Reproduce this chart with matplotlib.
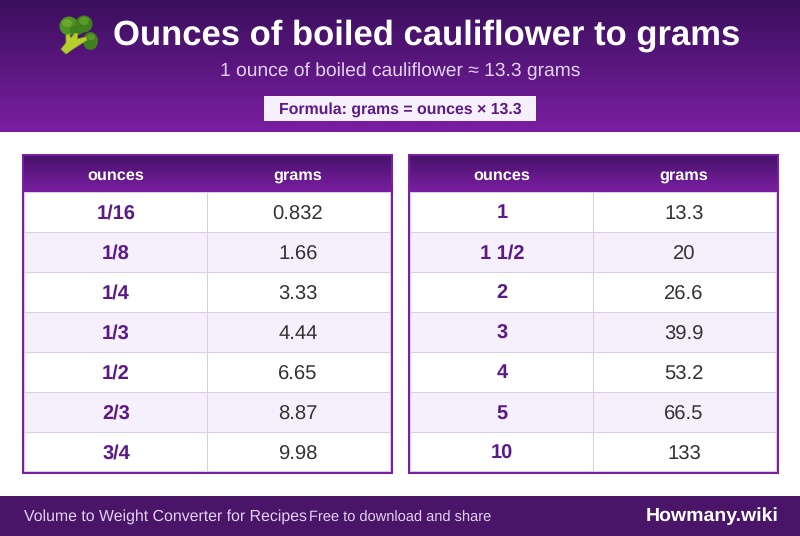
import numpy as np
import matplotlib
matplotlib.use("Agg")
import matplotlib.pyplot as plt
from matplotlib.colors import LinearSegmentedColormap
from matplotlib.patches import Rectangle, Ellipse, Polygon

plt.rcParams['font.family'] = ['Liberation Sans', 'DejaVu Sans']
plt.rcParams['text.hinting'] = 'no_hinting'
plt.rcParams['text.hinting_factor'] = 8

title = "Ounces of boiled cauliflower to grams"
subtitle = "1 ounce of boiled cauliflower \u2248 13.3 grams"
formula = "Formula: grams = ounces \u00d7 13.3"
footer_left = "Volume to Weight Converter for Recipes"
footer_mid = "Free to download and share"
footer_right = "Howmany.wiki"
col_names = ["ounces", "grams"]
ounces_left = ["1/16", "1/8", "1/4", "1/3", "1/2", "2/3", "3/4"]
grams_left = ["0.832", "1.66", "3.33", "4.44", "6.65", "8.87", "9.98"]
ounces_right = ["1", "1 1/2", "2", "3", "4", "5", "10"]
grams_right = ["13.3", "20", "26.6", "39.9", "53.2", "66.5", "133"]

DARK = "#3a0f5c"
MID = "#4a1568"
PURPLE = "#7b1fa2"
TEXT_PURPLE = "#5c1a87"
PALE = "#f5f0fb"
GRID = "#dccbee"

fig = plt.figure(figsize=(8, 5.36), dpi=100)
ax = fig.add_axes([0, 0, 1, 1])
ax.axis("off")

grad = LinearSegmentedColormap.from_list("head", [DARK, PURPLE])
ramp = np.linspace(0, 1, 256).reshape(-1, 1)
ramp_tbl = np.linspace(0.2, 1, 256).reshape(-1, 1)


def block(x, y, w, h, color, z=2):
    ax.add_patch(Rectangle((x, y), w, h, fc=color, ec="none", lw=0, zorder=z))


def label(x, y, s, color, size, bold=False, ha="center"):
    # .45 keeps baselines level, agg rounds y plus the string's descent
    ax.text(x, y + 0.45, s, color=color, fontsize=size, fontweight="bold" if bold else "normal",
            ha=ha, va="baseline", zorder=3)


# header band
ax.imshow(ramp, cmap=grad, vmin=0, vmax=1, extent=[0, 800, 132, 0], aspect="auto", zorder=1)

label(427, 44, title, "white", 24.95, True)
label(400, 76, subtitle, "#e1d2f0", 13.85)
block(264, 96, 272, 25, PALE)
label(400, 113, formula, TEXT_PURPLE, 11.4, True)

# broccoli icon, no emoji font here
for cx, cy, w, h, c in [(69, 26, 19, 19, "#4d9222"), (84, 24, 17, 17, "#3f7f1e"),
                        (77, 30, 14, 10, "#3f7f1e"), (90.5, 41, 15, 18, "#3f7f1e"),
                        (67, 23, 10, 8, "#6aa52c"), (84, 21, 10, 8, "#5c9a28"),
                        (91, 37, 8, 6, "#5c9a28")]:
    ax.add_patch(Ellipse((cx, cy), w, h, fc=c, ec="none", zorder=2.5))
ax.add_patch(Polygon([(61, 49), (66, 54), (73, 49), (87, 40), (86, 37), (77, 39), (78, 34),
                      (75, 33), (71, 38), (69, 34), (66, 35), (66, 43)],
                     fc="#b5cf2e", ec="#8fae1e", lw=0.5, zorder=3))


def draw_table(x0, ounces, grams):
    left, width, top = x0 + 2, 367, 156
    split = x0 + 185
    head_h = 36
    row_h = 40
    ax.imshow(ramp_tbl, cmap=grad, vmin=0, vmax=1, extent=[left, left + width, top + head_h, top],
              aspect="auto", zorder=1)
    for i, (o, g) in enumerate(zip(ounces, grams)):
        y = top + head_h + i * row_h
        block(left, y, width, row_h, PALE if i % 2 else "white", 1)
        block(left, y, width, 1, GRID)
        label(x0 + 94, y + 26, o, TEXT_PURPLE, 14.4, True)
        label(x0 + 276, y + 27, g, "#333333", 14.6)
    bottom = top + head_h + 7 * row_h
    block(split, top + head_h, 1, 7 * row_h, GRID)
    block(left, top + head_h, 1, 7 * row_h, GRID)
    block(left + width - 1, top + head_h, 1, 7 * row_h, GRID)
    block(left, bottom - 1, width, 1, GRID)
    label(x0 + 94, top + 23, col_names[0], "white", 11.7, True)
    label(x0 + 276, top + 24, col_names[1], "white", 11.7, True)
    # 2px frame
    block(x0, 154, 371, 2, PURPLE, 4)
    block(x0, 472, 371, 2, PURPLE, 4)
    block(x0, 154, 2, 320, PURPLE, 4)
    block(x0 + 369, 154, 2, 320, PURPLE, 4)


draw_table(22, ounces_left, grams_left)
draw_table(408, ounces_right, grams_right)

# footer
block(0, 496, 800, 40, MID, 1)
label(24, 520, footer_left, "#e1d2f0", 11.45, ha="left")
label(309, 521, footer_mid, "#e1d2f0", 10.5, ha="left")
label(779, 521, footer_right, "white", 14, True, ha="right")

ax.set_xlim(0, 800)
ax.set_ylim(536, 0)
fig.savefig("out.png", dpi=100, facecolor="white")
